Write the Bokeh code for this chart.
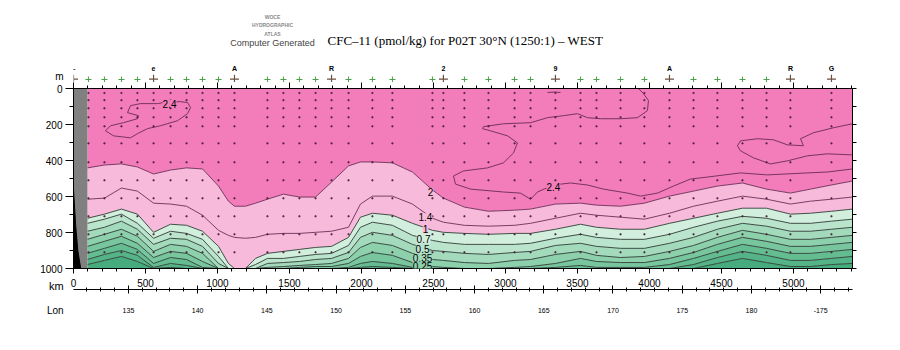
import numpy as np
from bokeh.plotting import figure
from bokeh.layouts import column
from bokeh.models import (Range1d, LinearAxis, FixedTicker, Label,
                          CustomJSTickFormatter)
from bokeh.core.properties import value
from bokeh.embed import file_html
from bokeh.resources import INLINE

# ---------------- data ----------------
# distances (km) at which the depths (m) of each CFC-11 isoline are read
grid_km = [97, 215, 333, 444, 556, 674, 785, 896, 1007, 1076, 1118, 1194, 1264, 1347,
           1458, 1569, 1681, 1792, 1910, 1993, 2076, 2215, 2354, 2493, 2569, 2715, 2882,
           3063, 3174, 3347, 3521, 3632, 3799, 3965, 4139, 4306, 4472, 4646, 4813, 4979,
           5118, 5264, 5410]

iso_2_0 = [441, 425, 419, 436, 475, 453, 441, 447, 542, 626, 654, 654, 637, 615, 587, 603,
           603, 520, 430, 408, 408, 413, 464, 564, 609, 659, 682, 676, 670, 642, 637, 648,
           654, 637, 598, 570, 542, 525, 559, 581, 559, 536, 514]
iso_1_4 = [615, 609, 553, 570, 637, 642, 654, 704, 788, 816, 827, 832, 827, 810, 805, 805,
           799, 793, 771, 642, 598, 598, 642, 721, 743, 760, 765, 760, 749, 721, 693, 704,
           715, 726, 693, 654, 626, 598, 615, 642, 626, 615, 603]
iso_1_0 = [721, 698, 670, 698, 799, 754, 760, 793, 877, 972, 1000, 1000, 944, 916, 905, 894,
           883, 877, 827, 715, 693, 704, 749, 788, 799, 805, 810, 805, 805, 782, 754, 771,
           782, 782, 749, 721, 693, 665, 665, 698, 693, 682, 670]
iso_0_7 = [749, 726, 698, 749, 832, 793, 805, 838, 933, 1000, 1000, 1000, 978, 944, 944, 933,
           922, 916, 872, 771, 743, 760, 816, 844, 855, 866, 866, 866, 860, 832, 810, 827,
           838, 838, 810, 771, 737, 710, 721, 749, 749, 737, 726]
iso_0_5 = [793, 771, 737, 782, 866, 832, 838, 877, 972, 1000, 1000, 1000, 1000, 972, 967, 961,
           950, 944, 911, 827, 799, 816, 866, 900, 905, 916, 922, 911, 905, 872, 860, 877,
           888, 888, 860, 827, 782, 749, 765, 793, 793, 782, 771]
iso_0_35 = [838, 810, 782, 821, 905, 866, 877, 916, 1000, 1000, 1000, 1000, 1000, 994, 989, 983,
            978, 972, 944, 883, 855, 872, 916, 950, 955, 967, 972, 955, 950, 922, 905, 927,
            939, 933, 905, 872, 827, 788, 810, 838, 838, 827, 816]
iso_0_25 = [877, 849, 821, 860, 939, 905, 916, 961, 1000, 1000, 1000, 1000, 1000, 1000, 1000, 994,
            989, 989, 972, 933, 911, 927, 967, 989, 994, 1000, 1000, 994, 989, 972, 944, 961,
            967, 967, 944, 911, 866, 827, 849, 877, 877, 866, 855]
iso_0_2 = [916, 888, 860, 894, 972, 939, 950, 994, 1000, 1000, 1000, 1000, 1000, 1000, 1000, 1000,
           1000, 1000, 994, 972, 961, 972, 994, 1000, 1000, 1000, 1000, 1000, 1000, 994, 983, 994,
           994, 994, 978, 944, 905, 866, 888, 916, 916, 905, 894]
iso_0_15 = [950, 922, 900, 927, 994, 972, 983, 1000, 1000, 1000, 1000, 1000, 1000, 1000, 1000, 1000,
            1000, 1000, 1000, 994, 989, 994, 1000, 1000, 1000, 1000, 1000, 1000, 1000, 1000, 1000, 1000,
            1000, 1000, 1000, 978, 939, 905, 927, 955, 955, 944, 933]
iso_0_1 = [978, 955, 933, 961, 1000, 994, 1000, 1000, 1000, 1000, 1000, 1000, 1000, 1000, 1000, 1000,
           1000, 1000, 1000, 1000, 1000, 1000, 1000, 1000, 1000, 1000, 1000, 1000, 1000, 1000, 1000, 1000,
           1000, 1000, 1000, 1000, 972, 944, 967, 989, 989, 978, 972]

# 2.4 isoline paths (km, m)
c24a_km = [375, 396, 465, 583, 625, 743, 792, 813, 792, 722, 604, 514, 444, 396, 278, 222, 257, 347, 444, 451, 375]
c24a_m = [134, 95, 84, 84, 78, 73, 78, 106, 140, 179, 207, 223, 251, 274, 263, 235, 207, 190, 168, 151, 134]
c24b_km = [3924, 3958, 3993, 3986, 3917, 3799, 3660, 3569, 3500, 3403, 3292, 3174, 2986, 2847, 2840,
           2896, 3014, 3083, 3056, 2986, 2875, 2708, 2639, 2653, 2757, 2986, 3104, 3174, 3222, 3333,
           3451, 3569, 3681, 3847, 3938, 4056, 4167, 4285, 4403, 4632, 4819, 5097, 5236, 5410]
c24b_m = [0, 28, 67, 123, 162, 168, 168, 162, 140, 151, 162, 190, 196, 212, 223,
          235, 263, 302, 358, 413, 441, 458, 486, 531, 559, 575, 581, 615, 575, 536,
          525, 536, 559, 581, 598, 581, 542, 503, 492, 469, 480, 469, 464, 447]
c24c_km = [5410, 5278, 5139, 5049, 5069, 4958, 4861, 4750, 4632, 4611, 4632, 4722, 4840, 4958, 5097, 5236, 5410]
c24c_m = [196, 218, 246, 279, 318, 313, 285, 279, 291, 318, 346, 385, 419, 402, 374, 363, 369]
c24d_km = [3292, 3340, 3382]
c24d_m = [22, 20, 22]

# stations
station_km = [0, 104, 215, 333, 444, 556, 674, 785, 896, 1007, 1118, 1347, 1458, 1569, 1681,
              1792, 1910, 2076, 2215, 2493, 2569, 2715, 2882, 3063, 3174, 3347, 3521, 3632,
              3799, 3965, 4139, 4306, 4472, 4646, 4813, 4979, 5264]
labeled_km = [0, 556, 1118, 1792, 2569, 3347, 4139, 4979, 5264]
labeled_txt = ["\u2013", "e", "A", "R", "2", "9", "A", "R", "G"]
sample_depth = [25, 65, 110, 160, 210, 305, 410, 510, 610, 710, 810, 910]

# bottom / no data at the coast
nodata_km = [0, 97]
coast_km = [0, 0, 15, 30, 50, 0]
coast_m = [0, 560, 760, 900, 1000, 1000]

# axis ticks
km_ticks = [0, 500, 1000, 1500, 2000, 2500, 3000, 3500, 4000, 4500, 5000]
km_minor = list(range(0, 5401, 100))
depth_ticks = [0, 200, 400, 600, 800, 1000]
depth_minor = [100, 300, 500, 700, 900]
depth_right = [0, 100, 200, 300, 400, 500, 600, 700, 800, 900, 1000]
lon_ticks = [135, 140, 145, 150, 155, 160, 165, 170, 175, 180, 185]
lon_labels = {185: "-175"}
lon_minor = list(range(132, 188))
lon_range = (131.03, 187.3)

# ---------------- style ----------------
PINK = "#F37DBB"
PINK2 = "#F8BADB"
band_colors = [PINK, PINK2, PINK2, "#D2EEDC", "#BAE4CC", "#A3DABC", "#8CD0AC",
               "#77C69E", "#64BC91", "#55B487", "#47AC7D"]
FONT = "Liberation Sans"
KM0, KM1 = 0, 5410
PX_PER_M = 180 / 1000

# ---------------- header (title, logo, stations) ----------------
hdr = figure(width=900, height=82, x_range=Range1d(KM0, KM1),
             y_range=Range1d(-6 / PX_PER_M, -88 / PX_PER_M),
             output_backend="svg", toolbar_location=None,
             x_axis_location=None, y_axis_location=None,
             min_border_left=73, min_border_right=48, min_border_top=0, min_border_bottom=0)
hdr.outline_line_color = None
hdr.xgrid.visible = False
hdr.ygrid.visible = False

def htext(x, y, t, size, align="left", font=FONT, color="black", style="normal"):
    hdr.text(x=[x], y=[y], text=[t], text_font=value(font), text_font_size=value(size),
             text_align=align, text_baseline="middle", text_color=color,
             text_font_style=style)

htext(1764, -268, "CFC\u201311 (pmol/kg) for P02T 30\u00b0N (1250:1) \u2013 WEST", "13px",
      font="Liberation Serif")
htext(1382, -251, "Computer Generated", "9px", align="center", color="#444444")
htext(1382, -397, "WOCE", "5px", align="center", color="#8a8a8a", style="bold")
htext(1382, -352, "HYDROGRAPHIC", "5px", align="center", color="#8a8a8a", style="bold")
htext(1382, -302, "ATLAS", "5px", align="center", color="#8a8a8a", style="bold")
hdr.add_layout(Label(x=-69, y=-64, text="m", text_font=FONT, text_font_size="10px",
                     text_align="right", text_baseline="middle", text_color="black"), "left")

plain = [k for k in station_km if k not in labeled_km]
hdr.scatter(plain, [-50] * len(plain), marker="cross", size=6, line_color="#4aa04a", line_width=1)
hdr.scatter(labeled_km, [-52] * len(labeled_km), marker="cross", size=9, line_color="#6e5040", line_width=1.2)
hdr.text(x=labeled_km, y=[-112] * len(labeled_km), text=labeled_txt, text_font=value(FONT),
         text_font_size=value("7px"), text_font_style="bold", text_align="center",
         text_baseline="middle", text_color="black")

# ---------------- section ----------------
p = figure(width=900, height=268, x_range=Range1d(KM0, KM1), y_range=Range1d(1000, 0),
           output_backend="svg", toolbar_location=None,
           min_border_left=73, min_border_right=48, min_border_top=6, min_border_bottom=82)
p.xgrid.visible = False
p.ygrid.visible = False
p.outline_line_color = "black"
p.background_fill_color = "white"

levels = [iso_2_0, iso_1_4, iso_1_0, iso_0_7, iso_0_5, iso_0_35, iso_0_25, iso_0_2, iso_0_15, iso_0_1]
n = len(grid_km)
tops = [[0] * n] + levels
bots = levels + [[1000] * n]
for t, b, c in zip(tops, bots, band_colors):
    p.varea(x=grid_km, y1=t, y2=b, fill_color=c)

for i, lv in enumerate(levels):
    col = "#6a2c55" if i < 2 else "#2f3d35"
    p.line(grid_km, lv, line_color=col, line_width=1, line_alpha=0.9)

for xs, ys in [(c24a_km, c24a_m), (c24b_km, c24b_m), (c24c_km, c24c_m), (c24d_km, c24d_m)]:
    p.line(xs, ys, line_color="#6a2c55", line_width=1, line_alpha=0.9)

p.varea(x=nodata_km, y1=[0, 0], y2=[1000, 1000], fill_color="#808080")
p.patch(coast_km, coast_m, fill_color="black", line_color="black")

sx, sy = np.meshgrid(station_km[1:], sample_depth)
p.scatter(sx.ravel(), sy.ravel(), marker="square", size=1.2, color="#4a2038", alpha=0.75)

xa = p.xaxis[0]
xa.ticker = FixedTicker(ticks=km_ticks, minor_ticks=km_minor)
xa.major_tick_out = 5
xa.major_tick_in = 0
xa.minor_tick_out = 3
xa.minor_tick_in = 0
xa.major_label_standoff = 5
xa.major_label_text_font = FONT
xa.major_label_text_font_size = "10px"
xa.major_label_text_color = "black"

ya = p.yaxis[0]
ya.ticker = FixedTicker(ticks=depth_ticks, minor_ticks=depth_minor)
ya.major_tick_out = 8
ya.major_tick_in = 0
ya.minor_tick_out = 4
ya.minor_tick_in = 0
ya.major_label_standoff = 3
ya.major_label_text_font = FONT
ya.major_label_text_font_size = "10px"
ya.major_label_text_color = "black"

top = LinearAxis(ticker=FixedTicker(ticks=km_ticks, minor_ticks=km_minor),
                 formatter=CustomJSTickFormatter(code="return ''"),
                 major_tick_out=6, major_tick_in=0, minor_tick_out=3, minor_tick_in=0,
                 major_label_standoff=0, major_label_text_font_size="0px")
p.add_layout(top, "above")

right = LinearAxis(ticker=FixedTicker(ticks=depth_right, minor_ticks=[]),
                   formatter=CustomJSTickFormatter(code="return ''"),
                   major_tick_out=4, major_tick_in=0, minor_tick_out=0, minor_tick_in=0,
                   major_label_standoff=0, major_label_text_font_size="0px")
p.add_layout(right, "right")

p.extra_x_ranges = {"lon": Range1d(*lon_range)}
lon = LinearAxis(x_range_name="lon", ticker=FixedTicker(ticks=lon_ticks, minor_ticks=lon_minor),
                 major_label_overrides=lon_labels,
                 major_tick_out=4, major_tick_in=4, minor_tick_out=2, minor_tick_in=2,
                 major_label_standoff=14, major_label_text_font=FONT,
                 major_label_text_font_size="7px", major_label_text_color="black")
p.add_layout(lon, "below")

for t, yv, sz in [("km", 1095, "11px"), ("Lon", 1235, "10px")]:
    p.add_layout(Label(x=-69, y=yv, text=t, text_font=FONT, text_font_size=sz,
                       text_align="right", text_baseline="middle", text_color="black"), "below")

def lab(x, y, text, bg):
    p.add_layout(Label(x=x, y=y, text=text, text_font=FONT, text_font_size="10px",
                       text_align="center", text_baseline="middle", text_color="black",
                       background_fill_color=bg))

lab(667, 84, "2.4", PINK)
lab(3333, 548, "2.4", PINK)
lab(2479, 575, "2", PINK2)
lab(2444, 715, "1.4", PINK2)
lab(2444, 782, "1", PINK2)
lab(2431, 838, "0.7", band_colors[3])
lab(2424, 894, "0.5", band_colors[4])
lab(2424, 944, "0.35", band_colors[5])
lab(2424, 985, "0.25", band_colors[6])

open("out.html", "w").write(file_html(column(hdr, p), INLINE))
